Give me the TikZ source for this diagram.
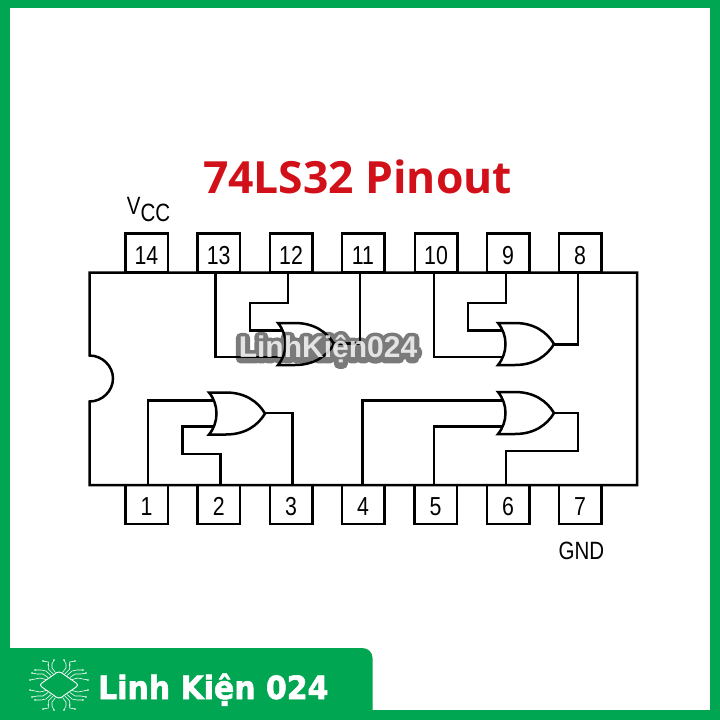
\documentclass[tikz,border=0pt]{standalone}
\usepackage{fontspec}
\usetikzlibrary{calc}
\setmainfont{Liberation Sans}
\newfontfamily\pinfont[FakeStretch=0.82]{Liberation Sans}
\newfontfamily\titlefont{Open Sans}
\newfontfamily\footfont[FakeStretch=0.935,FakeBold=1.8]{DejaVu Sans}
\newfontfamily\halofont[BoldFeatures={FakeBold=33}]{Liberation Sans}
\definecolor{brandgreen}{HTML}{00A651}
\definecolor{titlered}{HTML}{D2101A}
\tikzset{
  wire/.style={line width=2.5pt,line join=miter,line cap=rect,black},
  pinbox/.style={draw=black,line width=2.5pt,fill=white,minimum width=42.5pt,minimum height=39pt,inner sep=0pt,
     font=\pinfont\fontsize{26}{26}\selectfont,text height=22pt,text depth=0pt},
  pintext/.style={inner sep=0pt,font=\pinfont\fontsize{25}{25}\selectfont,anchor=base},
  trace/.style={white,line width=.6pt},
  pics/orgate/.style={code={
    \draw[wire,fill=white,line join=miter]
      (0,-21) -- (17,-21) .. controls (36,-21) and (49,-12) .. (56,0)
      .. controls (49,12) and (36,21) .. (17,21) -- (0,21)
      .. controls (10,9) and (10,-9) .. (0,-21) -- cycle;
    \coordinate (-in1) at (6.5,-13);
    \coordinate (-in2) at (6.5,13);
    \coordinate (-out) at (56,0);
  }}
}
\begin{document}
\begin{tikzpicture}[x=1pt,y=-1pt]
\useasboundingbox (0,0) rectangle (720,720);
% frame
\fill[white] (0,0) rectangle (720,720);
\fill[brandgreen] (0,0) rectangle (720,8);
\fill[brandgreen] (0,0) rectangle (10,720);
\fill[brandgreen] (710,0) rectangle (720,720);
\fill[brandgreen] (0,710) rectangle (720,720);
\fill[brandgreen] (0,648) -- (362,648) .. controls (368,648) and (372.5,652) .. (372.5,658) -- (372.5,712) -- (0,712) -- cycle;
% title
\node (title) [anchor=base,inner sep=0pt,text=titlered,font=\titlefont\bfseries\fontsize{44.4}{46}\selectfont] at (357.5,193) {74LS32 Pinout};
% pins
\foreach \n/\x in {14/146.5,13/218.7,12/291,11/363,10/436,9/508,8/580}
  \node (p\n) [pinbox] at (\x,253) {\n};
\foreach \n/\x in {1/146.5,2/218.7,3/291,4/363,5/435.5,6/508,7/580}
  \node (p\n) [pinbox] at (\x,504.5) {\n};
% package
\draw[wire,fill=white] (89.5,272.5) -- (637,272.5) -- (637,485) -- (89.5,485) -- (89.5,401.5)
  .. controls (102,401.5) and (113,391.2) .. (113,378.5)
  .. controls (113,365.8) and (102,355.5) .. (89.5,355.5) -- cycle;
% pin feet
\coordinate (w13) at (215.7,272.5);
\coordinate (w12) at (288,272.5);
\coordinate (w11) at (360,272.5);
\coordinate (w10) at (434,272.5);
\coordinate (w9) at (506,272.5);
\coordinate (w8) at (578,272.5);
\coordinate (w1) at (148,485);
\coordinate (w2) at (220.7,485);
\coordinate (w3) at (292.5,485);
\coordinate (w4) at (362.7,485);
\coordinate (w5) at (434,485);
\coordinate (w6) at (506,485);
% wires
\draw[wire] (w13) -- (215.7,357) -- (285,357);
\draw[wire] (w12) -- (288,303) -- (250,303) -- (250,330.5) -- (285,330.5);
\draw[wire] (w11) -- (360,343.5) -- (333,343.5);
\draw[wire] (w10) -- (434,357) -- (505,357);
\draw[wire] (w9) -- (506,303) -- (468,303) -- (468,330.5) -- (505,330.5);
\draw[wire] (w8) -- (578,344.5) -- (554,344.5);
\draw[wire] (w1) -- (148,400.7) -- (216,400.7);
\draw[wire] (w2) -- (220.7,454) -- (182.7,454) -- (182.7,426.7) -- (216,426.7);
\draw[wire] (w3) -- (292.5,413) -- (265,413);
\draw[wire] (w4) -- (362.7,400.7) -- (505,400.7);
\draw[wire] (w5) -- (434,426.7) -- (505,426.7);
\draw[wire] (w6) -- (506,451) -- (578,451) -- (578,413) -- (554,413);
% gates
\pic (g1) at (278,344) {orgate};
\pic (g2) at (498,344) {orgate};
\pic (g3) at (209,413.5) {orgate};
\pic (g4) at (498,413) {orgate};
% labels
\node (vcc) [pintext] at (148.5,221) {\raisebox{7pt}{V}CC};
\node (gnd) [pintext] at (581.5,559.5) {GND};
% watermark
\begin{scope}[transparency group,opacity=.52,line join=round,line cap=round]
\pgfsetroundjoin\pgfsetroundcap
\node (wmhalo) [inner sep=0pt,anchor=base,text=black,line join=round,line cap=round,font=\halofont\bfseries\fontsize{30}{30}\selectfont]
    at (328,358.5) {\special{pdf:code 1 j 1 J}LinhKiện024};
\end{scope}
\node (wm) [inner sep=0pt,anchor=base,text=white,opacity=.8,font=\bfseries\fontsize{30}{30}\selectfont] at (328,357) {LinhKiện024};
% footer brand
\node (brand) [anchor=base west,inner sep=0pt,text=white,font=\footfont\bfseries\fontsize{32}{32}\selectfont] at (98,699) {Linh Kiện 024};
% logo
\begin{scope}[shift={(59,685)}]
\draw[white,line width=.9pt,rounded corners=3pt] (-20,0) -- (0,-14) -- (20,0) -- (0,14) -- cycle;
\foreach \sx/\sy in {1/1,-1/1,1/-1,-1/-1}{
 \begin{scope}[xscale=\sx,yscale=\sy]
  \draw[trace] (5.7,-11) -- (10.7,-16) -- (10.7,-23) -- (16,-24);
  \draw[trace] (8,-9.5) -- (13,-14) -- (18,-15) -- (24,-15);
  \draw[trace] (3.5,-12.5) -- (7,-17) -- (7,-21) -- (5,-25);
  \draw[trace] (11,-7.5) -- (16,-11) -- (22,-11) -- (27,-12);
  \draw[trace] (13,-5.5) -- (19,-7) -- (29,-5);
  \foreach \p in {(16,-24),(24,-15),(5,-25),(27,-12),(29,-5),(10.7,-20)}
    \fill[white] \p circle (.9pt);
 \end{scope}}
\end{scope}
\end{tikzpicture}
\end{document}
